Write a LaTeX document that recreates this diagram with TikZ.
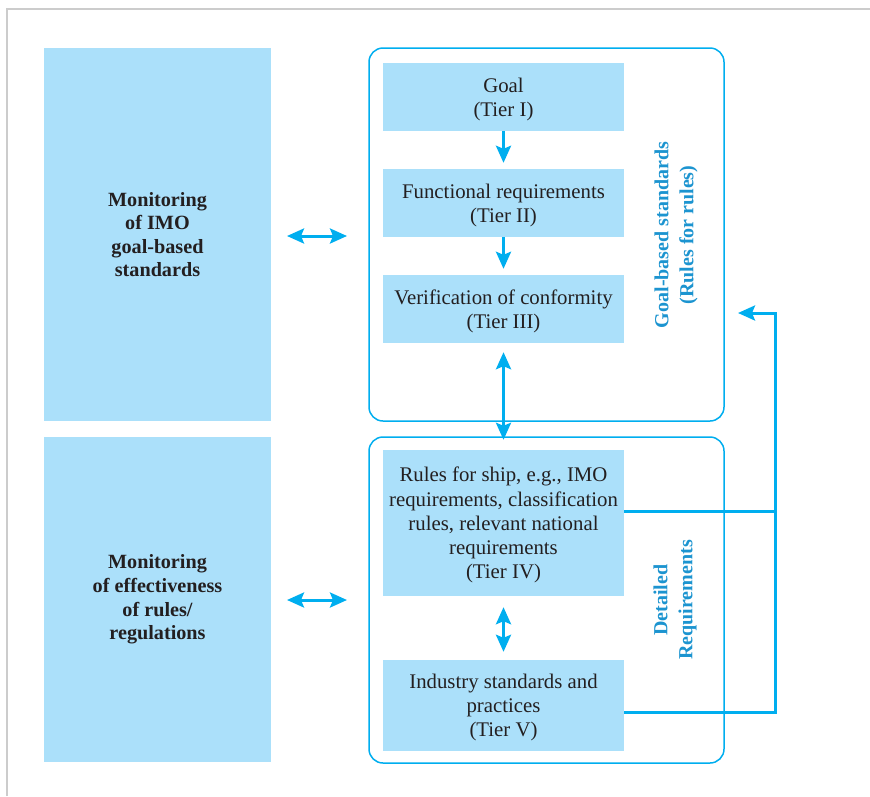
\documentclass[tikz,border=0pt]{standalone}
\usepackage{fontspec}
\setmainfont{Liberation Serif}
\usetikzlibrary{arrows.meta}
\definecolor{boxfill}{RGB}{171,224,250}
\definecolor{cyanline}{RGB}{0,174,239}
\definecolor{labelblue}{RGB}{28,148,208}
\definecolor{frame}{RGB}{204,204,204}
\definecolor{ink}{RGB}{35,31,32}
\tikzset{
  leftbox/.style={fill=boxfill, draw=none, minimum width=227pt, inner sep=0pt, align=center,
    text=ink, font=\fontsize{20.2}{23.6}\selectfont\bfseries},
  tierbox/.style={fill=boxfill, draw=none, minimum width=241pt, inner sep=0pt, align=center,
    text=ink, text depth=0pt, font=\fontsize{20.8}{24.2}\selectfont},
  groupbox/.style={draw=cyanline, line width=1.5pt, rounded corners=14pt, fill=white,
    minimum width=355pt, inner sep=0pt},
  sidelabel/.style={rotate=90, align=center, text=labelblue,
    font=\fontsize{20}{25}\selectfont\bfseries},
  flowarrow/.style={draw=cyanline, line width=3pt,
    -{Stealth[length=17pt,width=15pt,inset=3pt]}},
  biarrow/.style={draw=cyanline, line width=3pt,
    {Stealth[length=17pt,width=15pt,inset=3pt]}-{Stealth[length=17pt,width=15pt,inset=3pt]}},
  feedline/.style={draw=cyanline, line width=3pt}
}
\begin{document}
\begin{tikzpicture}[x=1pt,y=-1pt]
\useasboundingbox (0,0) rectangle (870,796);
% frame
\draw[frame, line width=1.7pt] (6.7,796) -- (6.7,9.2) -- (870,9.2);

% left boxes
\node[leftbox, minimum height=373pt] (mon1) at (157.5,234.5)
  {Monitoring\\of IMO\\goal-based\\standards};
\node[leftbox, minimum height=325pt] (mon2) at (157.5,599.5)
  {Monitoring\\of effectiveness\\of rules/\\regulations};

% group boxes
\node[groupbox, minimum height=373pt] (gbs) at (546.5,234.5) {};
\node[groupbox, minimum height=326pt] (det) at (546.5,600) {};

% tier boxes
\node[tierbox, minimum height=68pt] (goal) at (503.5,97) {Goal\\(Tier I)};
\node[tierbox, minimum height=68pt] (func) at (503.5,203) {Functional requirements\\(Tier II)};
\node[tierbox, minimum height=68pt] (verif) at (503.5,309) {Verification of conformity\\(Tier III)};
\node[tierbox, minimum height=146pt] (rules) at (503.5,523)
  {Rules for ship, e.g., IMO\\requirements, classification\\rules, relevant national\\requirements\\(Tier IV)};
\node[tierbox, minimum height=91pt] (indus) at (503.5,705.5)
  {Industry standards and\\practices\\(Tier V)};

% side labels
\node[sidelabel] (lblg) at (676,235) {Goal-based standards\\(Rules for rules)};
\node[sidelabel] (lbld) at (675,600) {Detailed\\Requirements};

% vertical arrows
\draw[flowarrow, shorten >=6pt] (goal.south) -- (func.north);
\draw[flowarrow, shorten >=6pt] (func.south) -- (verif.north);
\draw[biarrow, shorten <=9pt, shorten >=10pt] (verif.south) -- (rules.north);
\draw[biarrow, shorten <=11pt, shorten >=8pt] (rules.south) -- (indus.north);

% horizontal double arrows
\coordinate (a1l) at (287,236);
\coordinate (a1r) at (347,236);
\coordinate (a2l) at (287,600);
\coordinate (a2r) at (347,600);
\draw[biarrow] (a1l) -- (a1r);
\draw[biarrow] (a2l) -- (a2r);

% feedback loop
\coordinate (f1) at (rules.east |- 0,511);
\coordinate (f2) at (indus.east |- 0,712);
\coordinate (fc1) at (775,511);
\coordinate (fc2) at (775,712);
\coordinate (ftop) at (775,313);
\coordinate (ftip) at (738,313);
\draw[feedline] (f1) -- (fc1);
\draw[flowarrow] (f2) -- (fc2) -- (ftop) -- (ftip);
\end{tikzpicture}
\end{document}
